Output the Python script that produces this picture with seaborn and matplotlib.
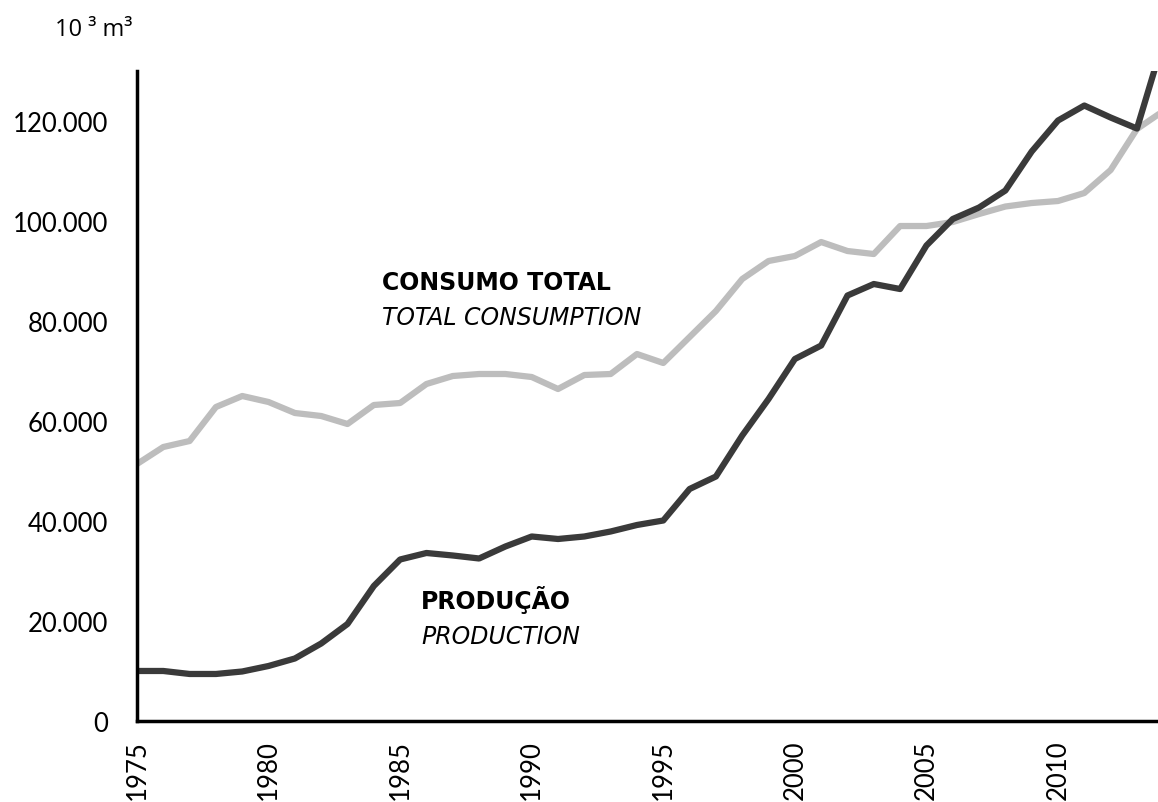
import pandas as pd
import seaborn as sns
import matplotlib.pyplot as plt
import matplotlib.ticker as mticker

years = list(range(1975, 2015))

consumo = [51400, 54800, 56000, 62800, 65000, 63800, 61600, 61000, 59400, 63200,
           63600, 67400, 69000, 69400, 69400, 68800, 66400, 69200, 69400, 73400,
           71600, 76800, 82000, 88400, 92000, 93000, 95800, 94000, 93400, 99000,
           99000, 99800, 101400, 102900, 103600, 104000, 105600, 110200, 118400, 122000]

producao = [10000, 10000, 9400, 9400, 9900, 11000, 12500, 15500, 19400, 27000,
            32300, 33600, 33100, 32500, 34900, 36900, 36400, 36900, 37900, 39200,
            40100, 46400, 48900, 57100, 64400, 72400, 75100, 85100, 87400, 86400,
            95100, 100400, 102700, 106100, 113900, 120100, 123100, 120700, 118500, 136000]

series_names = ["Consumo total", "Produção"]
series_colors = ["#bdbdbd", "#3a3a3a"]

df = pd.DataFrame({"ano": years * 2,
                   "valor": consumo + producao,
                   "serie": [series_names[0]] * len(years) + [series_names[1]] * len(years)})

sns.set_style("white")
plt.rcParams['font.family'] = ['Lato', 'DejaVu Sans']
plt.rcParams['text.color'] = 'black'
plt.rcParams['xtick.labelcolor'] = 'black'
plt.rcParams['ytick.labelcolor'] = 'black'

fig = plt.figure(figsize=(11.58, 8.03), dpi=100)
ax = fig.add_axes([0.1183, 0.1009, 0.8817, 0.8094])

sns.lineplot(data=df, x="ano", y="valor", hue="serie", palette=dict(zip(series_names, series_colors)),
             linewidth=4.5, legend=False, ax=ax)

ax.set_xlim(1975, 2013.8)
ax.set_ylim(0, 130000)
ax.set_xlabel("")
ax.set_ylabel("")

ax.xaxis.set_major_locator(mticker.MultipleLocator(5))
ax.xaxis.set_minor_locator(mticker.MultipleLocator(1))
ax.yaxis.set_major_locator(mticker.MultipleLocator(20000))
ax.yaxis.set_major_formatter(mticker.FuncFormatter(lambda v, p: f"{int(v):,}".replace(",", ".")))

for s in ["top", "right"]:
    ax.spines[s].set_visible(False)
for s in ["left", "bottom"]:
    ax.spines[s].set_linewidth(2.5)
    ax.spines[s].set_color("black")

ax.tick_params(axis="both", which="both", direction="out", length=7, width=2.5, color="black")
ax.tick_params(axis="y", labelsize=18.5, pad=14)
ax.tick_params(axis="x", labelsize=18.5, rotation=90, pad=6)

ax.text(-0.080, 1.065, "10 ³ m³", transform=ax.transAxes, fontsize=17, ha="left", va="center",
        family="Open Sans")

ax.text(1984.3, 86500, "CONSUMO TOTAL", fontsize=17, fontweight="bold", family="DejaVu Sans")
ax.text(1984.3, 79500, "TOTAL CONSUMPTION", fontsize=17, style="italic", family="DejaVu Sans")
ax.text(1985.8, 22500, "PRODUÇÃO", fontsize=17, fontweight="bold", family="DejaVu Sans")
ax.text(1985.8, 15500, "PRODUCTION", fontsize=17, style="italic", family="DejaVu Sans")

fig.savefig("out.png", dpi=100)
